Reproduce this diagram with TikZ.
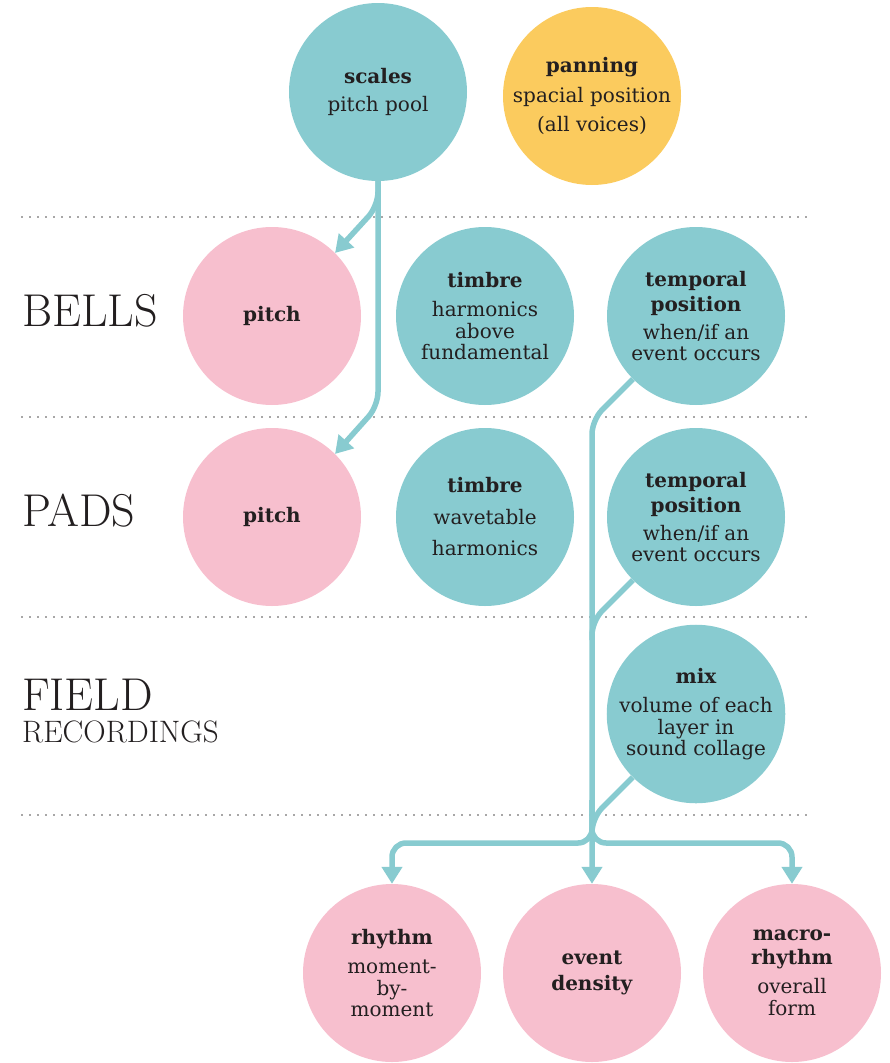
\documentclass[tikz,border=0pt]{standalone}
\usepackage{fontspec}
\newfontfamily\blobfont{DejaVu Serif}
\usetikzlibrary{arrows.meta}
\definecolor{tealc}{HTML}{88CBD0}
\definecolor{pinkc}{HTML}{F7BFCE}
\definecolor{yellowc}{HTML}{FBCB5E}
\definecolor{ink}{HTML}{231F20}
\tikzset{
  blob/.style={circle, minimum size=178pt, inner sep=0pt, align=center, text=ink,
    font=\blobfont\fontsize{20}{21.5}\selectfont},
  flow/.style={draw=tealc, line width=5.5pt, rounded corners=14pt,
    -{Triangle[length=17pt,width=20pt]}},
  rule/.style={draw=ink!80, line width=1.6pt, line cap=round, dash pattern=on 0pt off 8pt},
  heading/.style={anchor=base west, inner sep=0pt, text=ink}
}
\begin{document}
\begin{tikzpicture}[x=1pt,y=-1pt]
    \useasboundingbox (0,0) rectangle (890,1063);
    % separators
    \foreach \y in {217,417,617,815}
      \draw [rule] (22,\y) -- (808,\y);
    % row labels
    \node [heading, font=\fontsize{46}{46}\selectfont] (bells) at (22,326) {BELLS};
    \node [heading, font=\fontsize{46}{46}\selectfont] (pads) at (22,526) {PADS};
    \node [heading, font=\fontsize{46}{46}\selectfont] (field) at (22,710) {FIELD};
    \node [heading, font=\fontsize{31}{31}\selectfont] (rec) at (22,742) {RECORDINGS};
    % top row
    \node [blob, fill=tealc] (scales) at (378,92) {\textbf{scales}\\[6pt]pitch pool};
    \node [blob, fill=yellowc] (pan) at (592,96) {\textbf{panning}\\[8pt]spacial position\\[8pt](all voices)};
    % bells
    \node [blob, fill=pinkc] (pitchb) at (272,316) {\textbf{pitch}};
    \node [blob, fill=tealc] (timbreb) at (485,316) {\textbf{timbre}\\[8pt]harmonics\\above\\fundamental};
    \node [blob, fill=tealc] (tempb) at (696,316) {\textbf{temporal}\\[4pt]\textbf{position}\\[6pt]when/if an\\event occurs};
    % pads
    \node [blob, fill=pinkc] (pitchp) at (272,517) {\textbf{pitch}};
    \node [blob, fill=tealc] (timbrep) at (485,517) {\textbf{timbre}\\[10pt]wavetable\\[10pt]harmonics};
    \node [blob, fill=tealc] (tempp) at (696,517) {\textbf{temporal}\\[4pt]\textbf{position}\\[6pt]when/if an\\event occurs};
    % field recordings
    \node [blob, fill=tealc] (mix) at (696,714) {\textbf{mix}\\[8pt]volume of each\\layer in\\sound collage};
    % outputs
    \node [blob, fill=pinkc] (rhythm) at (392,973) {\textbf{rhythm}\\[8pt]moment-\\by-\\moment};
    \node [blob, fill=pinkc] (density) at (592,973) {\textbf{event}\\[4pt]\textbf{density}};
    \node [blob, fill=pinkc] (macro) at (792,973) {\textbf{macro-}\\[2pt]\textbf{rhythm}\\[8pt]overall\\form};
    % pitch pool feeds
    \draw [flow] (scales.south) -- (378,206) -- (pitchb.north east);
    \draw [flow] (scales.south) -- (378,406) -- (pitchp.north east);
    % timing trunk
    \draw [flow] (tempb.south west) -- (592,420) -- (density.north);
    \draw [flow, -] (tempp.south west) -- (592,621) -- (592,640);
    \draw [flow, -] (mix.south west) -- (592,818) -- (592,836);
    \draw [flow] (592,800) -- (592,843) -- (392,843) -- (rhythm.north);
    \draw [flow] (592,800) -- (592,843) -- (792,843) -- (macro.north);
\end{tikzpicture}
\end{document}
